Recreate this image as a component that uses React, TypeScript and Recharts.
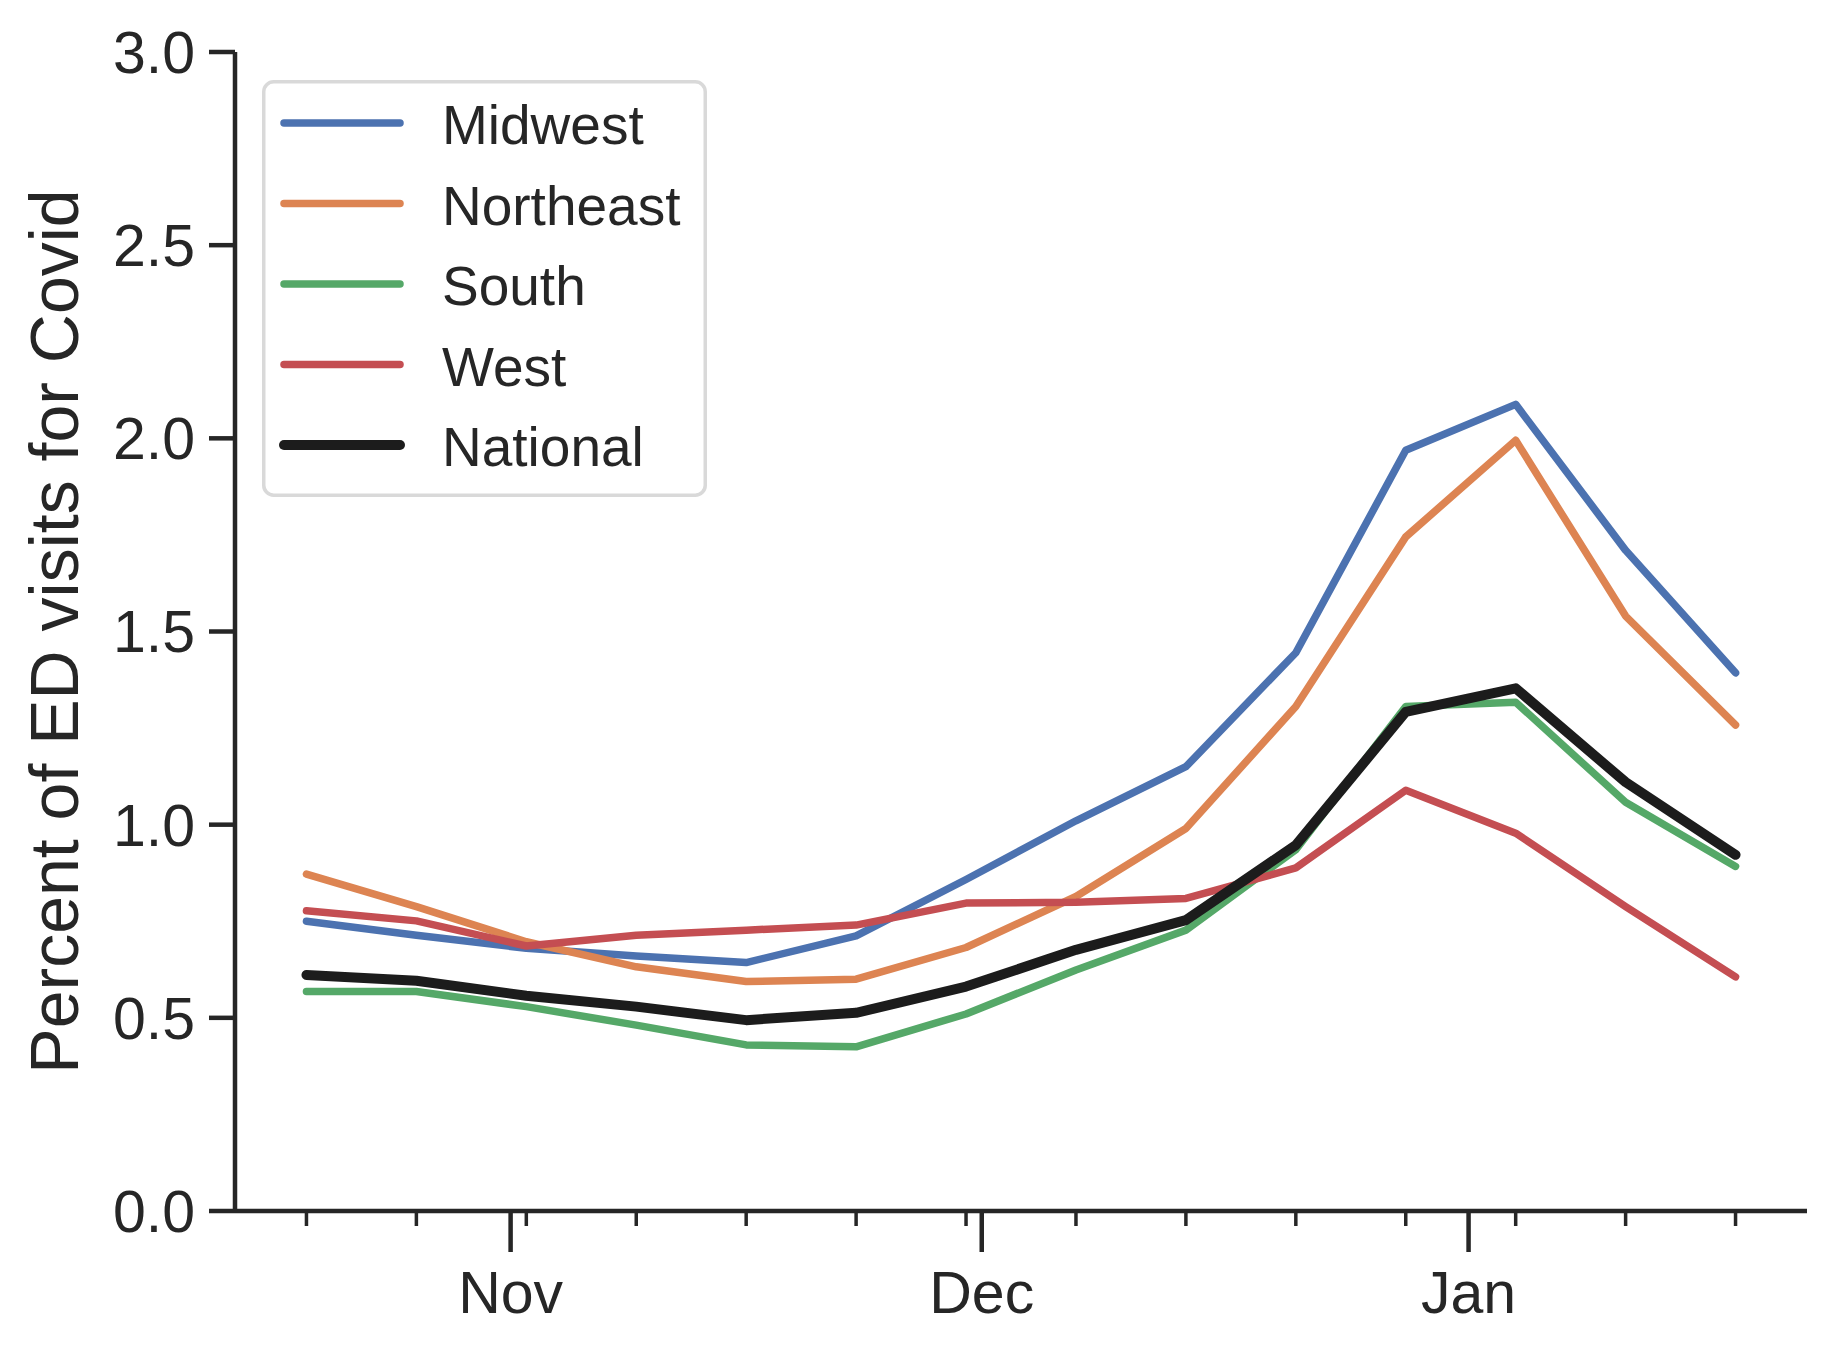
import { LineChart, Line, XAxis, YAxis, Legend } from 'recharts'

// weekly points (week dates) and the month marks on the x axis
const weeks = [
  '2022-10-19', '2022-10-26', '2022-11-02', '2022-11-09', '2022-11-16', '2022-11-23', '2022-11-30',
  '2022-12-07', '2022-12-14', '2022-12-21', '2022-12-28', '2023-01-04', '2023-01-11', '2023-01-18',
]
const monthStarts = ['2022-11-01', '2022-12-01', '2023-01-01']
const monthLabels = ['Nov', 'Dec', 'Jan']

const midwest = [0.75, 0.714, 0.68, 0.66, 0.643, 0.712, 0.858, 1.01, 1.15, 1.445, 1.969, 2.088, 1.71, 1.393]
const northeast = [0.872, 0.788, 0.697, 0.632, 0.594, 0.6, 0.682, 0.814, 0.99, 1.306, 1.745, 1.995, 1.54, 1.258]
const south = [0.568, 0.568, 0.529, 0.481, 0.43, 0.425, 0.51, 0.624, 0.727, 0.935, 1.306, 1.317, 1.058, 0.892]
const west = [0.777, 0.751, 0.686, 0.714, 0.727, 0.74, 0.797, 0.799, 0.809, 0.888, 1.089, 0.978, 0.788, 0.606]
const national = [0.611, 0.596, 0.557, 0.529, 0.494, 0.513, 0.581, 0.676, 0.753, 0.947, 1.292, 1.353, 1.11, 0.922]

const yTicks = [0, 0.5, 1, 1.5, 2, 2.5, 3]

const FONT = '"Liberation Sans", Arial, sans-serif'
const INK = '#262626'

const DAY = 86400000
const toDay = (s: string) => Date.parse(s + 'T00:00:00Z') / DAY

const series = [
  { name: 'Midwest', values: midwest, color: '#4C72B0', width: 7.5 },
  { name: 'Northeast', values: northeast, color: '#DD8452', width: 7.5 },
  { name: 'South', values: south, color: '#55A868', width: 7.5 },
  { name: 'West', values: west, color: '#C44E52', width: 7.5 },
  { name: 'National', values: national, color: '#1c1c1c', width: 10 },
]

const data = weeks.map((w, i) => {
  const row: Record<string, number> = { t: toDay(w) }
  series.forEach((s) => {
    row[s.name] = s.values[i]
  })
  return row
})

const weekDays = weeks.map(toDay)
const monthDays = monthStarts.map(toDay)
const first = weekDays[0]
const last = weekDays[weekDays.length - 1]
const pad = (last - first) * 0.05
const xTicks = [...weekDays, ...monthDays].sort((a, b) => a - b)

function DateTick(props: any) {
  const { x, y, payload } = props
  const idx = monthDays.indexOf(payload.value)
  if (idx >= 0) {
    return (
      <g>
        <line x1={x} x2={x} y1={y} y2={y + 41} stroke={INK} strokeWidth={4.5} />
        <text x={x} y={y + 102} textAnchor="middle" fill={INK} fontSize={59} fontFamily={FONT}>
          {monthLabels[idx]}
        </text>
      </g>
    )
  }
  return <line x1={x} x2={x} y1={y} y2={y + 15} stroke={INK} strokeWidth={3.5} />
}

function YLabel(props: any) {
  const { viewBox } = props
  const cy = viewBox.y + viewBox.height / 2
  return (
    <text
      x={78}
      y={cy}
      transform={`rotate(-90 78 ${cy})`}
      textAnchor="middle"
      fill={INK}
      fontSize={68}
      fontFamily={FONT}
    >
      Percent of ED visits for Covid
    </text>
  )
}

function LegendBox() {
  return (
    <svg width={445} height={417} style={{ display: 'block' }}>
      <rect x={1.75} y={1.75} width={441.5} height={413.5} rx={10} fill="#fff" fillOpacity={0.8} stroke="#d9d9d9" strokeWidth={3.5} />
      {series.map((s, i) => {
        const ly = 43 + i * 80.5
        return (
          <g key={s.name}>
            <line x1={22} x2={138} y1={ly} y2={ly} stroke={s.color} strokeWidth={s.width} strokeLinecap="round" />
            <text x={180} y={ly + 21} fill={INK} fontSize={55} fontFamily={FONT}>
              {s.name}
            </text>
          </g>
        )
      })}
    </svg>
  )
}

export default function App() {
  return (
    <div style={{ position: 'absolute', left: 0, top: 0, width: 1834, height: 1354, background: '#fff', fontFamily: FONT }}>
      <LineChart width={1834} height={1354} data={data} margin={{ top: 52, right: 27, bottom: 0, left: 0 }}>
        <XAxis
          dataKey="t"
          type="number"
          domain={[first - pad, last + pad]}
          ticks={xTicks}
          interval={0}
          height={143}
          tickSize={0}
          tickMargin={0}
          tickLine={false}
          axisLine={{ stroke: INK, strokeWidth: 4.5 }}
          tick={DateTick}
        />
        <YAxis
          type="number"
          domain={[0, 3]}
          ticks={yTicks}
          interval={0}
          width={235}
          tickSize={26}
          tickMargin={14}
          tickFormatter={(v: number) => v.toFixed(1)}
          axisLine={{ stroke: INK, strokeWidth: 4.5 }}
          tickLine={{ stroke: INK, strokeWidth: 4.5 }}
          tick={{ fill: INK, fontSize: 59, fontFamily: FONT }}
          label={{ content: YLabel }}
        />
        <Legend
          layout="vertical"
          align="center"
          verticalAlign="middle"
          wrapperStyle={{ left: 262, top: 80, width: 445, height: 417 }}
          content={LegendBox}
        />
        {series.map((s) => (
          <Line
            key={s.name}
            type="linear"
            dataKey={s.name}
            stroke={s.color}
            strokeWidth={s.width}
            strokeLinecap="round"
            strokeLinejoin="round"
            dot={false}
            activeDot={false}
            isAnimationActive={false}
          />
        ))}
      </LineChart>
    </div>
  )
}
